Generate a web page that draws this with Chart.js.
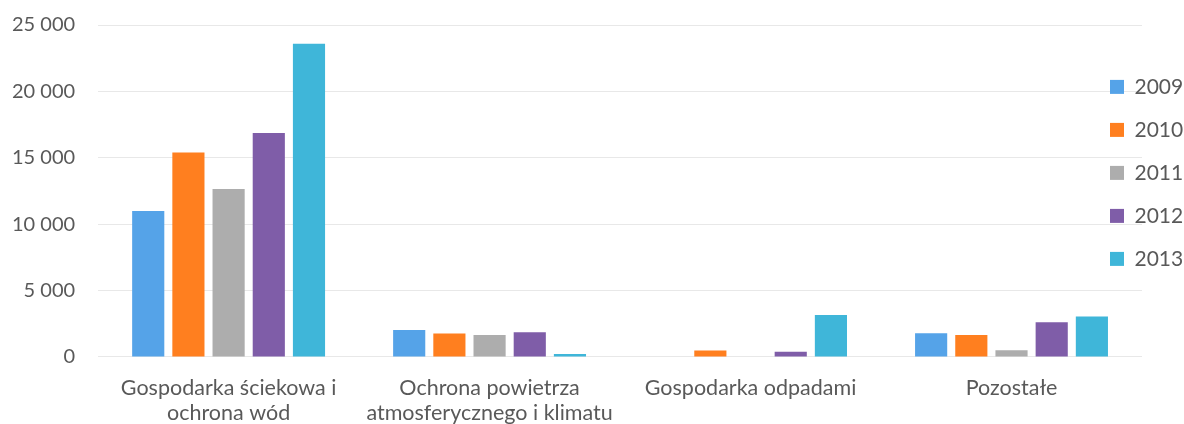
<!DOCTYPE html>
<html>
<head>
<meta charset="utf-8">
<script src="https://cdn.jsdelivr.net/npm/chart.js@4/dist/chart.umd.min.js"></script>
<style>
  html, body { margin: 0; padding: 0; background: #fff; }
  #wrap { width: 1184px; height: 424px; }
</style>
</head>
<body>
<div id="wrap"><canvas id="chart" width="1184" height="424"></canvas></div>
<script>
const categories = [
  ['Gospodarka ściekowa i', 'ochrona wód'],
  ['Ochrona powietrza', 'atmosferycznego i klimatu'],
  'Gospodarka odpadami',
  'Pozostałe'
];
const years = ['2009', '2010', '2011', '2012', '2013'];
const v2009 = [11000, 2030, 0, 1790];
const v2010 = [15400, 1760, 480, 1660];
const v2011 = [12650, 1660, 0, 500];
const v2012 = [16870, 1860, 400, 2610];
const v2013 = [23580, 230, 3160, 3040];
const yTicks = [0, 5000, 10000, 15000, 20000, 25000];
const colors = ['#55A3E8', '#FF7F1F', '#ADADAD', '#7F5DA8', '#3FB6D9'];

const series = [v2009, v2010, v2011, v2012, v2013];
const fontFamily = 'Lato, "Open Sans", sans-serif';

// legend sits over the right end of the plot, like in the original
const legendOverlap = {
  id: 'legendOverlap',
  beforeLayout(chart) {
    const lg = chart.legend;
    if (lg && !lg._patched) {
      const fit = lg.fit.bind(lg);
      lg.fit = function () { fit(); this.width = 42; };
      lg._patched = true;
    }
  },
  afterLayout(chart) {
    const lg = chart.legend;
    if (lg) { lg.left = 1110 - 22; lg.right = lg.left + 100; }
  }
};

const ctx = document.getElementById('chart').getContext('2d');
new Chart(ctx, {
  type: 'bar',
  data: {
    labels: categories,
    datasets: series.map((vals, i) => ({
      label: years[i],
      data: vals,
      backgroundColor: colors[i],
      borderWidth: 0,
      barPercentage: 0.8,
      categoryPercentage: 0.77
    }))
  },
  options: {
    responsive: false,
    animation: false,
    layout: { padding: { top: 25, left: 9, right: 0, bottom: -20 } },
    plugins: {
      tooltip: { enabled: false },
      legend: {
        position: 'right',
        align: 'start',
        title: { display: true, text: '', padding: 7.5 },
        labels: {
          boxWidth: 14,
          boxHeight: 14,
          padding: 22,
          color: '#595959',
          font: { family: fontFamily, size: 21 }
        }
      }
    },
    scales: {
      x: {
        grid: { display: false, drawTicks: false },
        border: { display: false },
        ticks: {
          color: '#595959',
          padding: 18.5,
          maxRotation: 0,
          autoSkip: false,
          font: { family: fontFamily, size: 21.5, lineHeight: 1.163 }
        }
      },
      y: {
        min: 0,
        max: 25000,
        afterBuildTicks: axis => { axis.ticks = yTicks.map(v => ({ value: v })); },
        grid: { color: '#E8E8E8', drawTicks: true, tickLength: 20, tickColor: 'rgba(0,0,0,0)' },
        border: { display: false },
        ticks: {
          color: '#595959',
          padding: 3,
          font: { family: fontFamily, size: 20 },
          callback: v => String(v).replace(/\B(?=(\d{3})+$)/g, ' ')
        }
      }
    }
  },
  plugins: [legendOverlap]
});
</script>
</body>
</html>
